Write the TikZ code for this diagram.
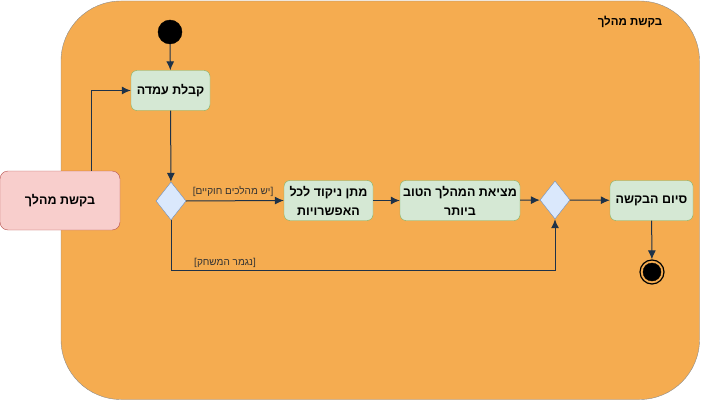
\documentclass[tikz,border=0pt]{standalone}
\usepackage{fontspec}
\setmainfont{Liberation Sans}
\newfontfamily\hebfont[Script=Hebrew]{Liberation Sans}
\TeXXeTstate=1
\usetikzlibrary{shapes.geometric,arrows.meta}
\definecolor{swimfill}{HTML}{F5AC50}
\definecolor{swimline}{HTML}{8C8C8C}
\definecolor{actfill}{HTML}{D5E8D4}
\definecolor{actline}{HTML}{82B366}
\definecolor{decfill}{HTML}{DAE8FC}
\definecolor{decline}{HTML}{6C8EBF}
\definecolor{reqfill}{HTML}{F8CECC}
\definecolor{reqline}{HTML}{B85450}
\definecolor{flowline}{HTML}{1E3248}
\newcommand{\heb}[1]{\beginR#1\endR}
\tikzset{
  action/.style={draw=actline, fill=actfill, rounded corners=6pt, inner sep=0pt,
    align=center, font=\hebfont\bfseries\fontsize{12.5}{19}\selectfont},
  decision/.style={diamond, draw=decline, fill=decfill, inner sep=0pt,
    minimum width=30pt, minimum height=38pt},
  request/.style={draw=reqline, fill=reqfill, rounded corners=8pt, inner sep=0pt,
    minimum width=120pt, minimum height=59pt, font=\hebfont\bfseries\fontsize{12.5}{14}\selectfont},
  startdot/.style={circle, fill=black, draw=black, inner sep=0pt, minimum size=#1},
  guard/.style={font=\hebfont\fontsize{10}{12}\selectfont, text=black!80},
  flow/.style={draw=flowline, line width=1pt, -{Latex[length=9pt,width=8pt]}}
}
\begin{document}
\begin{tikzpicture}[x=1pt, y=-1pt]
    \useasboundingbox (0,0) rectangle (701,401);
    % container
    \draw[swimline, fill=swimfill, rounded corners=60pt] (61,1) rectangle (699.5,399.5);
    \node[font=\hebfont\bfseries\fontsize{11.5}{13}\selectfont] (title) at (630,22) {\heb{בקשת מהלך}};

    % nodes
    \node[startdot=24pt] (start) at (170,32) {};
    \node[action, minimum width=79pt, minimum height=40pt] (receive) at (170.5,90.5) {\heb{קבלת עמדה}};
    \node[decision] (check) at (171,201) {};
    \node[action, minimum width=89pt, minimum height=40pt] (score) at (328.5,200.5)
        {\heb{מתן ניקוד לכל}\\\heb{האפשרויות}};
    \node[action, minimum width=120pt, minimum height=40pt] (best) at (460,200.5)
        {\heb{מציאת המהלך הטוב}\\\heb{ביותר}};
    \node[decision] (merge) at (555,200) {};
    \node[action, minimum width=83pt, minimum height=40pt] (finish) at (651.5,200.5) {\heb{סיום הבקשה}};
    \node[circle, draw=black, line width=1.2pt, inner sep=0pt, minimum size=24pt] (stop) at (652,272) {};
    \node[startdot=18pt] (stopdot) at (stop) {};
    \node[request] (req) at (60,200.5) {\heb{בקשת מהלך}};
    \coordinate (corner) at (555,270);

    % connectors
    \draw[flow] (req.north -| 91,0) |- (receive.west);
    \draw[flow] (start) -- (receive);
    \draw[flow] (receive) -- (check);
    \draw[flow] (check.east) -- node[guard, above, pos=0.48] {\heb{[יש מהלכים חוקיים]}} (score.west);
    \draw[flow] (score) -- (best);
    \draw[flow] (best) -- (merge);
    \draw[flow] (merge) -- (finish);
    \draw[flow] (check.south) |- (corner) -- (merge.south);
    \node[guard] (endlabel) at (225,263) {\heb{[נגמר המשחק]}};
    \draw[flow] (finish) -- (stop);
\end{tikzpicture}
\end{document}
